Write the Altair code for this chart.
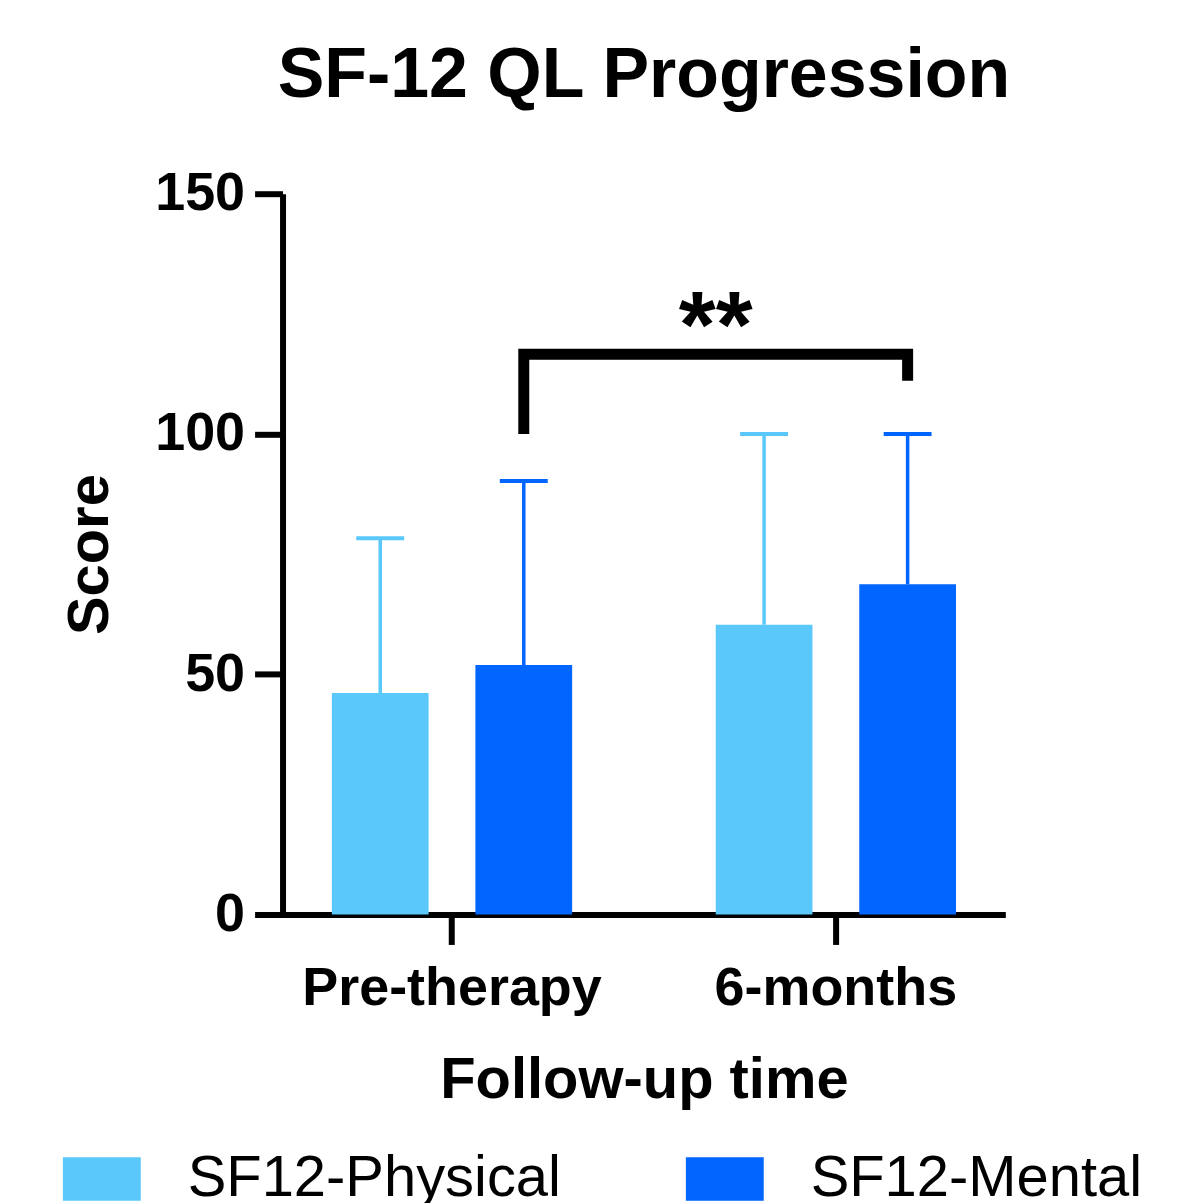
import altair as alt
import pandas as pd

# ---- data ----
times = ["Pre-therapy", "Pre-therapy", "6-months", "6-months"]
measures = ["SF12-Physical", "SF12-Mental", "SF12-Physical", "SF12-Mental"]
means = [46.1, 51.9, 60.3, 68.7]
sds = [32.2, 38.3, 39.7, 31.3]

time_order = ["Pre-therapy", "6-months"]
measure_order = ["SF12-Physical", "SF12-Mental"]
colors = ["#5AC8FA", "#0066FF"]

bracket_time = ["Pre-therapy", "Pre-therapy", "6-months", "6-months"]
bracket_measure = ["SF12-Mental", "SF12-Mental", "SF12-Mental", "SF12-Mental"]
bracket_y = [100.0, 116.6, 116.6, 111.1]
bracket_order = [0, 1, 2, 3]

sig_labels = ["**"]
sig_time = ["6-months"]
sig_y = [116.0]

y_ticks = [0, 50, 100, 150]

FONT = "Liberation Sans"

df = pd.DataFrame({"time": times, "measure": measures, "mean": means, "sd": sds})
df["upper"] = df["mean"] + df["sd"]
bdf = pd.DataFrame({"time": bracket_time, "measure": bracket_measure,
                    "value": bracket_y, "order": bracket_order})
sdf = pd.DataFrame({"time": sig_time, "label": sig_labels, "value": sig_y})

x_axis = alt.Axis(
    title="Follow-up time", labelAngle=0, labelLimit=1000,
    domainColor="black", domainWidth=6,
    tickColor="black", tickWidth=6, tickSize=30,
    labelFont=FONT, labelFontSize=54, labelFontWeight="bold", labelColor="black",
    labelPadding=17,
    titleFont=FONT, titleFontSize=58, titleFontWeight="bold", titleColor="black",
    titleBaseline="alphabetic", titleY=183, titleX=362,
)
y_axis = alt.Axis(
    title="Score", values=y_ticks, grid=False,
    domainColor="black", domainWidth=6,
    tickColor="black", tickWidth=6, tickSize=28,
    labelFont=FONT, labelFontSize=54, labelFontWeight="bold", labelColor="black",
    labelPadding=10, labelFlush=False, labelOverlap=False,
    titleFont=FONT, titleFontSize=58, titleFontWeight="bold", titleColor="black",
    titleBaseline="alphabetic", titleX=-175, titleY=361,
)
x_scale = alt.Scale(domain=time_order, paddingInner=0.374, paddingOuter=0.1285)
xo_scale = alt.Scale(domain=measure_order, paddingInner=0.326, paddingOuter=0)
y_scale = alt.Scale(domain=[0, 150], nice=False, zero=True)
c_scale = alt.Scale(domain=measure_order, range=colors)


def X(**kw):
    return alt.X("time:N", sort=time_order, scale=x_scale, axis=x_axis, **kw)


def XO():
    return alt.XOffset("measure:N", sort=measure_order, scale=xo_scale)


def Y(field):
    return alt.Y(field, scale=y_scale, axis=y_axis)


legend = alt.Legend(
    title=None, orient="none", legendX=-220, legendY=948,
    direction="horizontal",
    symbolType="M-1,-0.56H1V0.56H-1Z", symbolSize=6084,
    symbolStrokeWidth=0, symbolOpacity=1,
    labelFont=FONT, labelFontSize=58, labelFontWeight="normal", labelColor="black",
    labelOffset=47, labelLimit=1000, columnPadding=125,
)

bars = alt.Chart(df).mark_bar(opacity=1).encode(
    x=X(), xOffset=XO(), y=Y("mean:Q"),
    color=alt.Color("measure:N", sort=measure_order, scale=c_scale, legend=legend),
)
err = alt.Chart(df).mark_rule(strokeWidth=3.5).encode(
    x=X(), xOffset=XO(), y=Y("mean:Q"), y2="upper:Q",
    color=alt.Color("measure:N", sort=measure_order, scale=c_scale, legend=None),
)
caps = alt.Chart(df).mark_tick(size=48, thickness=4, opacity=1).encode(
    x=X(), xOffset=XO(), y=Y("upper:Q"),
    color=alt.Color("measure:N", sort=measure_order, scale=c_scale, legend=None),
)
bracket = alt.Chart(bdf).mark_line(color="black", strokeWidth=11,
                                   strokeCap="butt", strokeJoin="miter").encode(
    x=X(), xOffset=XO(), y=Y("value:Q"), order="order:Q",
)
sig = alt.Chart(sdf).mark_text(font=FONT, fontSize=95, fontWeight="bold",
                               baseline="alphabetic", align="center",
                               color="black").encode(
    x=X(bandPosition=0), y=Y("value:Q"), text="label:N",
)

chart = alt.layer(bars, err, caps, bracket, sig).properties(
    width=724, height=722,
    autosize=alt.AutoSizeParams(type="none"),
    padding={"left": 275, "top": 185, "right": 190, "bottom": 300},
    title=alt.TitleParams("SF-12 QL Progression", font=FONT, fontSize=70,
                          fontWeight="bold", color="black", anchor="middle",
                          frame="group", baseline="alphabetic", offset=0),
).configure_view(stroke=None)

chart.save("out.html", embed_options={"renderer": "svg", "actions": False})
